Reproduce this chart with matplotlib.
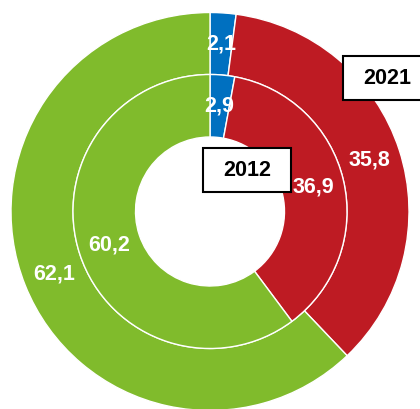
import numpy as np
import matplotlib
matplotlib.use("Agg")
import matplotlib.pyplot as plt
from matplotlib.patches import Rectangle

plt.rcParams['font.family'] = ['Liberation Sans', 'DejaVu Sans']

# Daten: Anteile in Prozent (blau, rot, grün)
labels_2021 = ['2,1', '35,8', '62,1']
values_2021 = [2.1, 35.8, 62.1]
labels_2012 = ['2,9', '36,9', '60,2']
values_2012 = [2.9, 36.9, 60.2]
colors = ['#0070C0', '#BE1B23', '#80BB2C']

W, H = 420, 409
fig = plt.figure(figsize=(W / 100, H / 100), dpi=100)
ax = fig.add_axes([0, 0, 1, 1])

cx, cy = 210, H - 211.5
r_out, r_mid, r_in = 199, 137, 74.5

ax.pie(values_2021, colors=colors, radius=r_out, center=(cx, cy),
       startangle=90, counterclock=False,
       wedgeprops=dict(width=r_out - r_mid, edgecolor='white', linewidth=1))
ax.pie(values_2012, colors=colors, radius=r_mid, center=(cx, cy),
       startangle=90, counterclock=False,
       wedgeprops=dict(width=r_mid - r_in, edgecolor='white', linewidth=1))


def put_labels(values, labels, radius):
    total = sum(values)
    start = 0
    for v, lab in zip(values, labels):
        mid = 90 - (start + v / 2) / total * 360
        start += v
        a = np.deg2rad(mid)
        ax.text(cx + radius * np.cos(a), cy + radius * np.sin(a), lab,
                color='white', fontsize=15.5, fontweight='bold',
                ha='center', va='center')


put_labels(values_2021, labels_2021, (r_out + r_mid) / 2)
put_labels(values_2012, labels_2012, (r_mid + r_in) / 2)

# Jahres-Kästchen
for x0, y0, txt in [(343, H - 100, '2021'), (203, H - 192, '2012')]:
    ax.add_patch(Rectangle((x0, y0), 88, 44, facecolor='white',
                           edgecolor='black', linewidth=1.5, zorder=5))
    ax.text(x0 + 44, y0 + 22, txt, fontsize=15.5, fontweight='bold',
            ha='center', va='center', color='black', zorder=6)

ax.set_xlim(0, W)
ax.set_ylim(0, H)
ax.set_aspect('equal')
ax.axis('off')

plt.savefig('out.png', dpi=100)
